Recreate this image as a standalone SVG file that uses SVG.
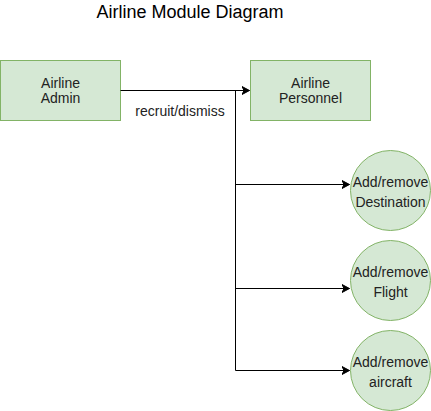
<svg xmlns="http://www.w3.org/2000/svg" width="431" height="411" viewBox="0 0 431 411">
<defs>
<marker id="arr" markerUnits="userSpaceOnUse" markerWidth="10" markerHeight="10" refX="8" refY="4.5" orient="auto">
<path d="M0.5,0.5 L8,4.5 L0.5,8.5 L2.5,4.5 Z" fill="#000" stroke="#000" stroke-width="1"/>
</marker>
</defs>
<style>
.box{fill:#d5e8d4;stroke:#82b366;stroke-width:1}
.t{font-family:"Liberation Sans",Arial,sans-serif;font-size:14px;fill:#222;text-anchor:middle}
.title{font-family:"Liberation Sans",Arial,sans-serif;font-size:18px;fill:#000;text-anchor:middle}
.c{fill:none;stroke:#000;stroke-width:1}
</style>
<rect width="431" height="411" fill="#fff"/>
<text class="title" x="190" y="18">Airline Module Diagram</text>
<g id="admin">
<rect class="box" x="0.5" y="60.5" width="120" height="60"/>
<text class="t" x="60.5" y="88">Airline</text>
<text class="t" x="60.5" y="103">Admin</text>
</g>
<g id="personnel">
<rect class="box" x="250.5" y="60.5" width="120" height="60"/>
<text class="t" x="310.5" y="88">Airline</text>
<text class="t" x="310.5" y="103">Personnel</text>
</g>
<g id="destination">
<circle class="box" cx="390.5" cy="190.5" r="40"/>
<text class="t" x="390.5" y="187">Add/remove</text>
<text class="t" x="390.5" y="207">Destination</text>
</g>
<g id="flight">
<circle class="box" cx="390.5" cy="280.5" r="40"/>
<text class="t" x="390.5" y="277">Add/remove</text>
<text class="t" x="390.5" y="297">Flight</text>
</g>
<g id="aircraft">
<circle class="box" cx="390.5" cy="370.5" r="40"/>
<text class="t" x="390.5" y="367">Add/remove</text>
<text class="t" x="390.5" y="387">aircraft</text>
</g>
<g id="connectors">
<path class="c" d="M120.5,90.5 H249.5" marker-end="url(#arr)"/>
<path class="c" d="M235.5,90.5 V370.5"/>
<path class="c" d="M235.5,184.5 H349.5" marker-end="url(#arr)"/>
<path class="c" d="M235.5,288.5 H349.5" marker-end="url(#arr)"/>
<path class="c" d="M235.5,370.5 H349.5" marker-end="url(#arr)"/>
<text class="t" x="180" y="116">recruit/dismiss</text>
</g>
</svg>
